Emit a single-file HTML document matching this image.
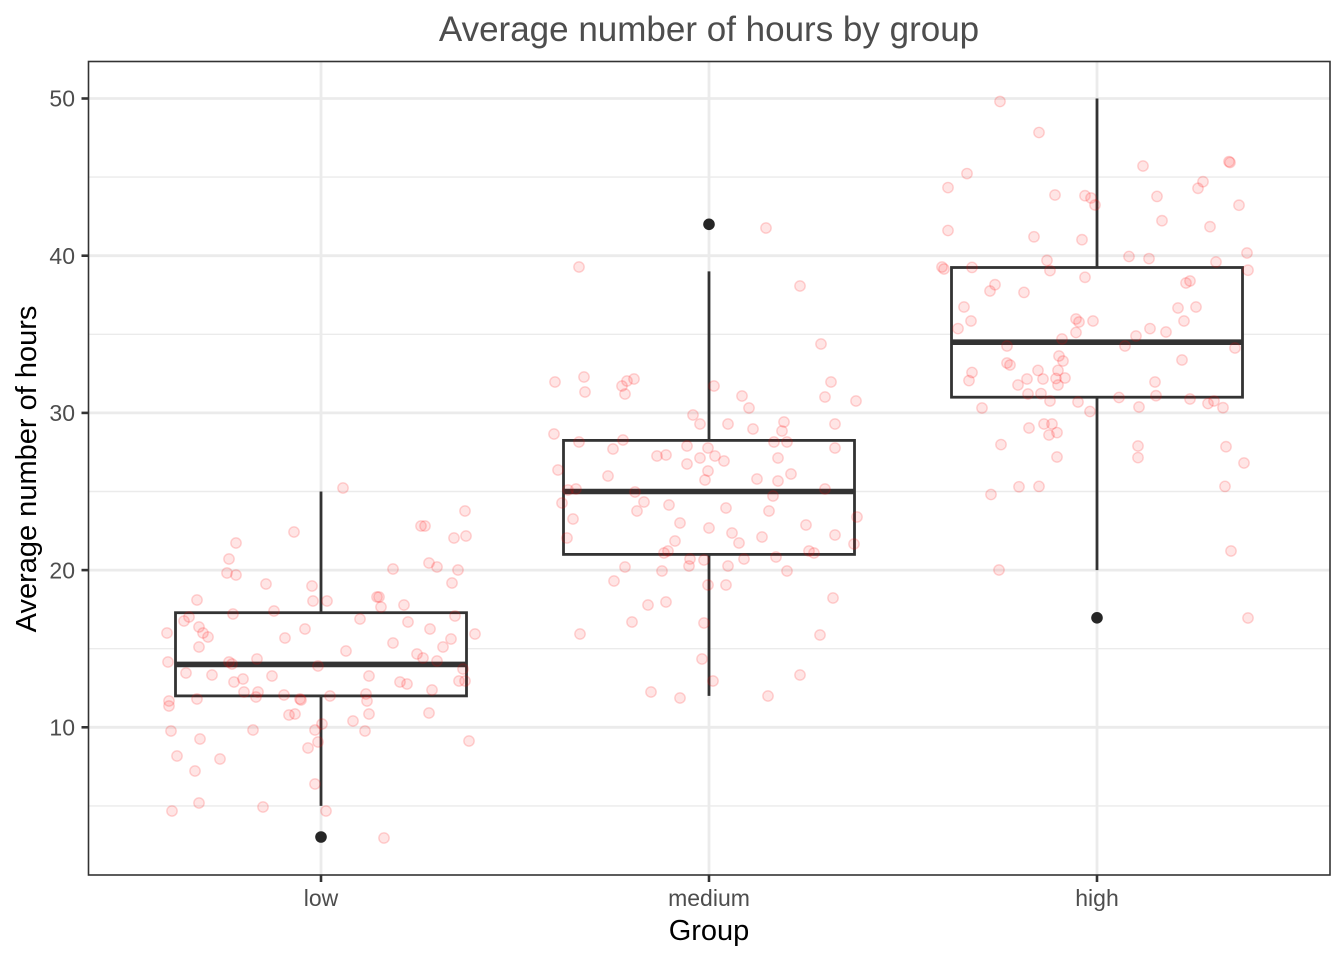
<!DOCTYPE html>
<html>
<head>
<meta charset="utf-8">
<style>
html,body{margin:0;padding:0;background:#fff;}
svg{display:block;}
text{font-family:"Liberation Sans",Arial,Helvetica,sans-serif;}
</style>
</head>
<body>
<svg id="chart" width="1344" height="960" viewBox="0 0 1344 960" xmlns="http://www.w3.org/2000/svg">
<rect x="0" y="0" width="1344" height="960" fill="#fff"/>
<g stroke="#ebebeb" stroke-width="1.4">
<line x1="88.5" x2="1330" y1="805.9" y2="805.9"/>
<line x1="88.5" x2="1330" y1="648.7" y2="648.7"/>
<line x1="88.5" x2="1330" y1="491.5" y2="491.5"/>
<line x1="88.5" x2="1330" y1="334.3" y2="334.3"/>
<line x1="88.5" x2="1330" y1="177.1" y2="177.1"/>
</g>
<g stroke="#ebebeb" stroke-width="2.8">
<line x1="88.5" x2="1330" y1="727.3" y2="727.3"/>
<line x1="88.5" x2="1330" y1="570.1" y2="570.1"/>
<line x1="88.5" x2="1330" y1="412.9" y2="412.9"/>
<line x1="88.5" x2="1330" y1="255.7" y2="255.7"/>
<line x1="88.5" x2="1330" y1="98.5" y2="98.5"/>
<line x1="321" x2="321" y1="61.5" y2="875"/>
<line x1="709" x2="709" y1="61.5" y2="875"/>
<line x1="1097" x2="1097" y1="61.5" y2="875"/>
</g>
<g stroke="#333333" stroke-width="2.8" fill="#fff">
<line x1="321" x2="321" y1="491.5" y2="612.7"/>
<line x1="321" x2="321" y1="695.9" y2="805.9"/>
<rect x="175.5" y="612.7" width="291" height="83.2"/>
<line x1="175.5" x2="466.5" y1="664.4" y2="664.4" stroke-width="5.6"/>
<line x1="709" x2="709" y1="271.4" y2="440.4"/>
<line x1="709" x2="709" y1="554.4" y2="695.9"/>
<rect x="563.5" y="440.4" width="291" height="114"/>
<line x1="563.5" x2="854.5" y1="491.5" y2="491.5" stroke-width="5.6"/>
<line x1="1097" x2="1097" y1="98.5" y2="267.5"/>
<line x1="1097" x2="1097" y1="397.2" y2="570.1"/>
<rect x="951.5" y="267.5" width="291" height="129.7"/>
<line x1="951.5" x2="1242.5" y1="342.2" y2="342.2" stroke-width="5.6"/>
</g>
<g fill="#262626">
<circle cx="321" cy="837" r="5.8"/>
<circle cx="709" cy="224.3" r="5.8"/>
<circle cx="1097" cy="617.8" r="5.8"/>
</g>
<g id="pts" fill="rgba(255,0,0,0.1)" stroke="rgba(255,0,0,0.17)" stroke-width="1.4"></g>
<rect x="88.5" y="61.5" width="1241.5" height="813.5" fill="none" stroke="#333333" stroke-width="1.6"/>
<g stroke="#333333" stroke-width="2.6">
<line x1="81.5" x2="88.5" y1="727.3" y2="727.3"/>
<line x1="81.5" x2="88.5" y1="570.1" y2="570.1"/>
<line x1="81.5" x2="88.5" y1="412.9" y2="412.9"/>
<line x1="81.5" x2="88.5" y1="255.7" y2="255.7"/>
<line x1="81.5" x2="88.5" y1="98.5" y2="98.5"/>
<line x1="321" x2="321" y1="875" y2="882"/>
<line x1="709" x2="709" y1="875" y2="882"/>
<line x1="1097" x2="1097" y1="875" y2="882"/>
</g>
<g fill="#4d4d4d" font-size="23" text-anchor="end">
<text x="75" y="735.5">10</text>
<text x="75" y="578.3">20</text>
<text x="75" y="421.1">30</text>
<text x="75" y="263.9">40</text>
<text x="75" y="106.7">50</text>
</g>
<g fill="#4d4d4d" font-size="23" text-anchor="middle">
<text x="321" y="906">low</text>
<text x="709" y="906">medium</text>
<text x="1097" y="906">high</text>
</g>
<text x="709" y="940" font-size="29" text-anchor="middle" fill="#000">Group</text>
<text transform="translate(36,469) rotate(-90)" font-size="29" text-anchor="middle" fill="#000">Average number of hours</text>
<text x="709" y="41" font-size="35" text-anchor="middle" fill="#4d4d4d">Average number of hours by group</text>
</svg>
<script>
(function(){
var d="343,488 465,511 421,526 425,526 294,532 454,538 466,536 236,543 229,559 227,573 236,575 266,584 312,586 393,569 429,563 437,567 458,570 452,583 197,600 313,601 327,601 377,597 379,597 381,607 404,605 274,611 233,614 189,617 184,621 360,619 408,622 455,616 199,627 203,633 208,637 167,633 305,629 285,638 430,629 475,634 393,643 451,639 443,647 199,647 346,651 417,654 423,658 437,661 168,662 229,662 232,664 257,659 318,666 463,669 186,673 212,675 272,676 369,676 234,682 243,679 400,682 407,684 459,681 465,681 244,692 258,692 256,697 284,695 300,699 301,700 330,696 366,694 367,701 432,690 197,699 169,701 169,706 369,714 429,713 289,715 295,714 353,721 322,724 315,730 253,730 171,731 365,731 469,741 200,739 318,742 308,748 177,756 220,759 195,771 315,784 199,803 263,807 172,811 326,811 384,838 " +
"766,228 579,267 800,286 821,344 555,382 584,377 585,392 622,386 627,381 634,379 625,394 714,386 831,382 825,397 856,401 742,396 749,408 693,415 700,424 728,424 753,429 784,422 782,431 835,424 554,434 579,442 623,440 613,449 687,446 708,448 774,442 787,442 835,448 657,456 666,455 700,458 715,456 724,461 687,464 778,458 558,470 608,476 708,471 705,480 757,479 778,481 791,474 568,490 576,489 635,492 825,489 773,496 562,503 644,502 669,505 637,511 726,508 769,511 857,517 573,519 680,523 709,528 806,525 732,533 762,537 835,535 567,538 675,541 739,543 854,544 664,553 668,551 809,551 814,553 690,559 689,566 704,560 744,559 776,557 728,566 625,567 662,571 787,571 614,581 708,585 726,585 833,598 648,605 666,602 632,622 704,623 580,634 820,635 702,659 800,675 713,681 651,692 680,698 768,696 " +
"1000,101.5 1039,132.5 1143,166 1229,161.6 1230,162.5 967,173.6 948,187.6 1055,195 1085,195.7 1091,198 1095,205 1157,196.4 1203,181.7 1198,188.3 1239,205.2 1162,220.7 948,230.5 1034,236.8 1082,239.7 1210,226.7 1129,256.5 1149,258.6 1247,253 1248,270.2 1047,260.4 1050,270.6 1216,262 942,267 944,269 972,267.4 1085,277.3 995,284.7 990,291 1024,292.4 1186,283 1190,281 964,307 1178,308 1196,307 971,321 1076,319 1079,322 1076,332.5 1093,321 1184,321 958,328.6 1150,328.6 1166,332 1136,336 1062,339 1007,346 1125,346 1235,348 1059,356 1063,361 1182,360 1007,363 1010,365 972,372.5 969,380.6 1038,370.4 1058,370.4 1027,379 1043,379 1018,385 1056,378.5 1065,378 1058,385 1155,382 1028,394 1041,393.6 1050,401 1078,402 1119,397.5 1156,395.7 1190,399 1208,403.5 1214,401 1223,407.7 982,408 1090,411.5 1139,407 1029,428 1044,424 1052,424 1049,435 1057,432.6 1001,444.6 1057,457 1138,446 1138,457.6 1226,446.7 1244,463 1019,486.8 1039,486.4 991,494.5 1225,486.4 1231,551 999,570 1248,618";
var g=document.getElementById("pts"),ns="http://www.w3.org/2000/svg";
d.trim().split(/\s+/).forEach(function(p){
var xy=p.split(","),c=document.createElementNS(ns,"circle");
c.setAttribute("cx",xy[0]);c.setAttribute("cy",xy[1]);c.setAttribute("r","5.2");
g.appendChild(c);
});
})();
</script>
</body>
</html>
